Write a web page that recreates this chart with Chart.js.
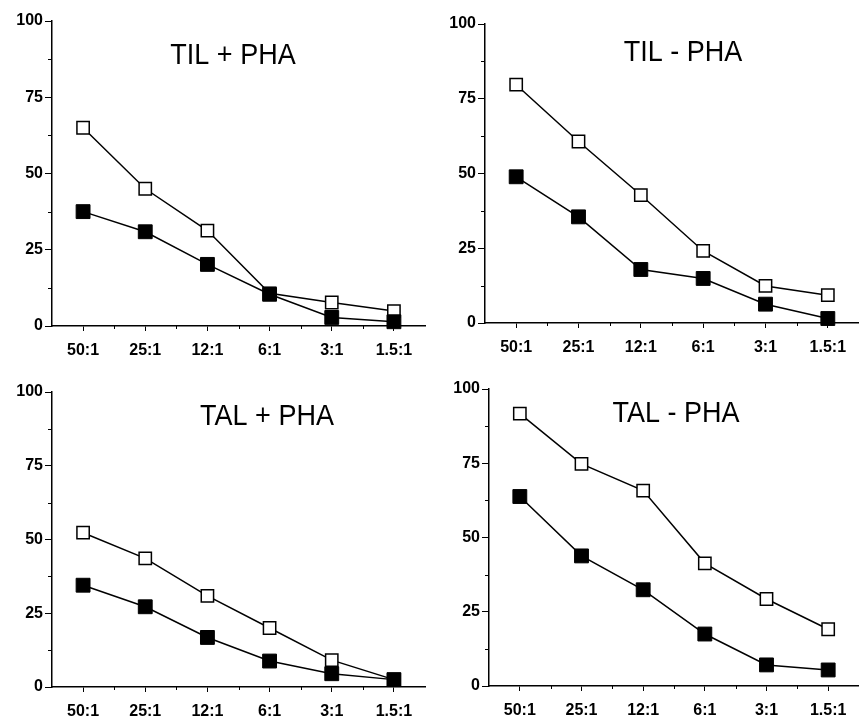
<!DOCTYPE html>
<html>
<head>
<meta charset="utf-8">
<script src="https://cdn.jsdelivr.net/npm/chart.js@4.4.1/dist/chart.umd.min.js"></script>
<style>
    html, body { margin: 0; padding: 0; background: #fff; }
    body { width: 859px; height: 717px; position: relative; overflow: hidden; }
    .panel { position: absolute; }
</style>
</head>
<body>
<div class="panel" style="left:0px;top:0px;width:430px;height:360px;"><canvas id="tilPlus"></canvas></div>
<div class="panel" style="left:430px;top:0px;width:429px;height:360px;"><canvas id="tilMinus"></canvas></div>
<div class="panel" style="left:0px;top:360px;width:430px;height:357px;"><canvas id="talPlus"></canvas></div>
<div class="panel" style="left:430px;top:360px;width:429px;height:357px;"><canvas id="talMinus"></canvas></div>
<script>
// effector : target ratios
const categories = ['50:1', '25:1', '12:1', '6:1', '3:1', '1.5:1'];
const yTicks = [0, 25, 50, 75, 100];

// open squares / filled squares
const tilPlusOpen = [65, 45, 31.3, 10.7, 7.7, 4.9];
const tilPlusFilled = [37.5, 30.9, 20.2, 10.4, 2.8, 1.4];
const tilMinusOpen = [79.7, 60.7, 42.8, 24.1, 12.4, 9.3];
const tilMinusFilled = [48.9, 35.5, 17.9, 14.9, 6.3, 1.5];
const talPlusOpen = [52.3, 43.6, 30.9, 20, 9.1, 2.5];
const talPlusFilled = [34.5, 27.2, 16.8, 8.8, 4.5, 2.5];
const talMinusOpen = [91.7, 74.8, 65.8, 41.3, 29.3, 19.1];
const talMinusFilled = [63.8, 43.8, 32.4, 17.5, 7.1, 5.4];

const panels = [
    { id: 'tilPlus', title: 'TIL + PHA', open: tilPlusOpen, filled: tilPlusFilled,
      yWidth: 52, padTop: 21, padRight: 5, xHeight: 34, titleX: 181, titleY: 35 },
    { id: 'tilMinus', title: 'TIL - PHA', open: tilMinusOpen, filled: tilMinusFilled,
      yWidth: 55, padTop: 24, padRight: 0, xHeight: 37, titleX: 198, titleY: 29 },
    { id: 'talPlus', title: 'TAL + PHA', open: talPlusOpen, filled: talPlusFilled,
      yWidth: 52, padTop: 32, padRight: 5, xHeight: 30, titleX: 215, titleY: 25 },
    { id: 'talMinus', title: 'TAL - PHA', open: talMinusOpen, filled: talMinusFilled,
      yWidth: 59, padTop: 29, padRight: 0, xHeight: 31, titleX: 187, titleY: 25 }
];

const tickFont = { family: '"Liberation Sans", Arial, Helvetica, sans-serif', size: 16, weight: 'bold' };

// minor ticks + title written inside the plot
const panelDecor = {
    id: 'panelDecor',
    afterDraw(chart, args, opts) {
        const { ctx, chartArea, scales } = chart;
        const x = scales.x, y = scales.y;
        ctx.save();
        ctx.strokeStyle = '#000';
        ctx.lineWidth = 1;
        ctx.beginPath();
        for (let i = 0; i < yTicks.length - 1; i++) {
            const py = Math.round(y.getPixelForValue((yTicks[i] + yTicks[i + 1]) / 2)) + 0.5;
            ctx.moveTo(chartArea.left - 4, py);
            ctx.lineTo(chartArea.left, py);
        }
        for (let i = 0; i < categories.length - 1; i++) {
            const px = Math.round((x.getPixelForValue(i) + x.getPixelForValue(i + 1)) / 2) + 0.5;
            ctx.moveTo(px, chartArea.bottom);
            ctx.lineTo(px, chartArea.bottom + 3);
        }
        ctx.stroke();

        ctx.fillStyle = '#000';
        ctx.font = '27px "Liberation Sans", Arial, Helvetica, sans-serif';
        ctx.textAlign = 'center';
        ctx.textBaseline = 'middle';
        ctx.translate(chartArea.left + opts.dx, chartArea.top + opts.dy);
        ctx.scale(1, 1.12);
        ctx.fillText(opts.text, 0, 0);
        ctx.restore();
    }
};

function buildPanel(p) {
    const ctx = document.getElementById(p.id).getContext('2d');
    return new Chart(ctx, {
        type: 'line',
        data: {
            labels: categories,
            datasets: [{
                label: 'open',
                data: p.open,
                borderColor: '#000',
                borderWidth: 1.5,
                pointStyle: 'rect',
                pointRadius: 8.7,
                pointBorderWidth: 1.5,
                pointBackgroundColor: '#fff',
                pointBorderColor: '#000',
                tension: 0,
                clip: false,
                order: 1
            }, {
                label: 'filled',
                data: p.filled,
                borderColor: '#000',
                borderWidth: 1.5,
                pointStyle: 'rect',
                pointRadius: 9.8,
                pointBorderWidth: 1,
                pointBackgroundColor: '#000',
                pointBorderColor: '#000',
                tension: 0,
                clip: false,
                order: 0
            }]
        },
        options: {
            responsive: true,
            maintainAspectRatio: false,
            animation: false,
            layout: {
                autoPadding: false,
                padding: { top: p.padTop, right: p.padRight, left: 0, bottom: 0 }
            },
            plugins: {
                legend: { display: false },
                tooltip: { enabled: false },
                panelDecor: { text: p.title, dx: p.titleX, dy: p.titleY }
            },
            scales: {
                x: {
                    offset: true,
                    border: { color: '#000', width: 1.5 },
                    grid: { drawOnChartArea: false, offset: false, tickLength: 5, color: '#000', lineWidth: 1 },
                    ticks: { color: '#000', font: tickFont, padding: 10, maxRotation: 0, autoSkip: false },
                    afterFit: scale => {
                        scale.height = p.xHeight;
                        scale.paddingLeft = 0;
                        scale.paddingRight = 0;
                    }
                },
                y: {
                    min: 0,
                    max: 100,
                    border: { color: '#000', width: 1.5 },
                    grid: { drawOnChartArea: false, tickLength: 7, color: '#000', lineWidth: 1 },
                    ticks: { stepSize: 25, color: '#000', font: tickFont, padding: 2 },
                    afterFit: scale => {
                        scale.width = p.yWidth;
                        scale.paddingTop = 0;
                        scale.paddingBottom = 0;
                    }
                }
            }
        },
        plugins: [panelDecor]
    });
}

panels.forEach(buildPanel);
</script>
</body>
</html>
